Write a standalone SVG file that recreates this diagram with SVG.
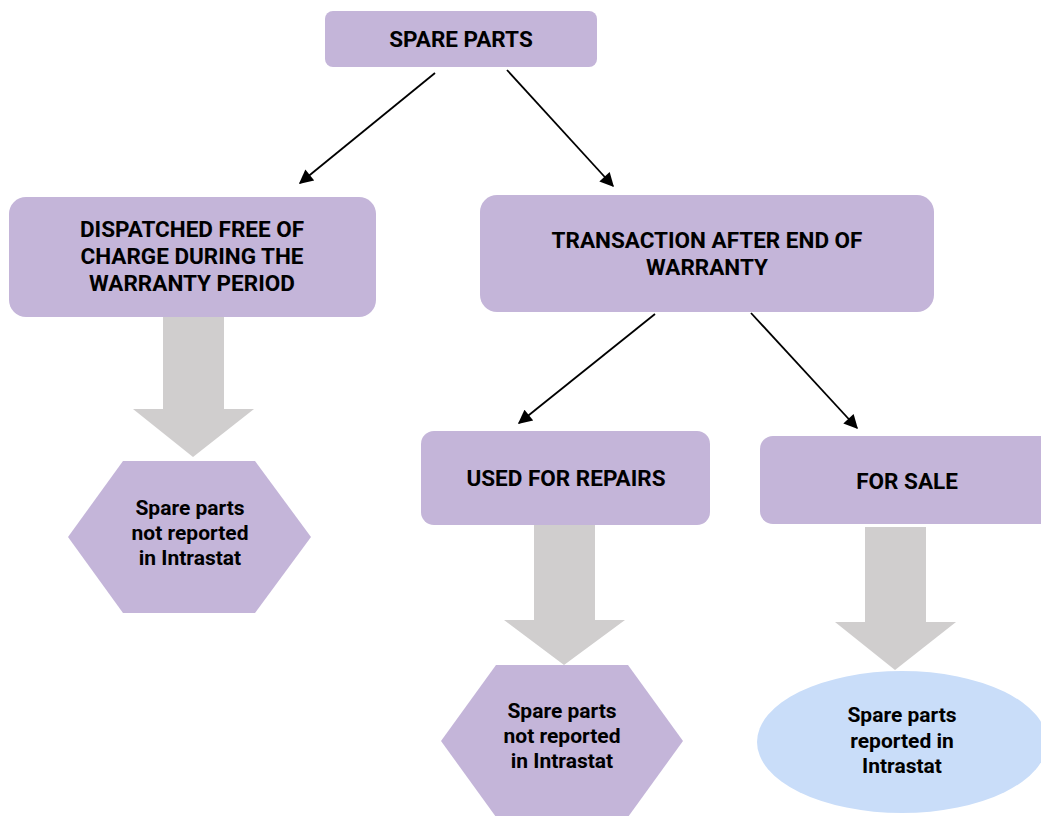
<svg xmlns="http://www.w3.org/2000/svg" width="1041" height="816" viewBox="0 0 1041 816">
<defs>
<style>
.box{fill:#c4b5d9;}
.grey{fill:#d0cece;}
.t{font-family:Roboto,"Liberation Sans",sans-serif;font-weight:bold;fill:#000;text-anchor:middle;}
.h{font-size:22.5px;}
.s{font-size:21px;}
.conn{stroke:#000;stroke-width:1.8;fill:none;marker-end:url(#ah);}
</style>
<marker id="ah" viewBox="0 0 10 10" refX="9" refY="5" markerWidth="17" markerHeight="14" markerUnits="userSpaceOnUse" orient="auto">
<path d="M0,0 L10,5 L0,10 z" fill="#000"/>
</marker>
</defs>
<rect width="1041" height="816" fill="#fff"/>
<g id="connectors">
<line class="conn" x1="435" y1="73" x2="300" y2="183"/>
<line class="conn" x1="507" y1="70" x2="613" y2="186"/>
<line class="conn" x1="655" y1="314" x2="519" y2="423"/>
<line class="conn" x1="751" y1="313" x2="857" y2="428"/>
<polygon class="grey" points="163,314 224,314 224,409 254,409 193,457 133,409 163,409"/>
<polygon class="grey" points="534,525 595,525 595,620 625,620 564,665 504,620 534,620"/>
<polygon class="grey" points="865,527 926,527 926,622 956,622 895,670 835,622 865,622"/>
</g>
<g id="spare-parts">
<rect class="box" x="325" y="11" width="272" height="56" rx="8"/>
<text class="t h" x="461" y="47">SPARE PARTS</text>
</g>
<g id="dispatched">
<rect class="box" x="9" y="197" width="367" height="120" rx="17"/>
<text class="t h" x="192" y="237">DISPATCHED FREE OF</text>
<text class="t h" x="192" y="264">CHARGE DURING THE</text>
<text class="t h" x="192" y="291">WARRANTY PERIOD</text>
</g>
<g id="transaction">
<rect class="box" x="480" y="195" width="454" height="117" rx="17"/>
<text class="t h" x="707" y="248">TRANSACTION AFTER END OF</text>
<text class="t h" x="707" y="275">WARRANTY</text>
</g>
<g id="repairs">
<rect class="box" x="421" y="431" width="289" height="94" rx="13"/>
<text class="t h" x="566" y="486">USED FOR REPAIRS</text>
</g>
<g id="sale">
<rect class="box" x="760" y="436" width="300" height="88" rx="13"/>
<text class="t h" x="907" y="489">FOR SALE</text>
</g>
<g id="not-reported-1">
<polygon class="box" points="68,537 123,461 255,461 311,537 255,613 123,613"/>
<text class="t s" x="190" y="515">Spare parts</text>
<text class="t s" x="190" y="540">not reported</text>
<text class="t s" x="190" y="565">in Intrastat</text>
</g>
<g id="not-reported-2">
<polygon class="box" points="441,741 496,665 628,665 683,741 628,817 496,817"/>
<text class="t s" x="562" y="718">Spare parts</text>
<text class="t s" x="562" y="743">not reported</text>
<text class="t s" x="562" y="768">in Intrastat</text>
</g>
<g id="reported">
<ellipse cx="902" cy="742" rx="145" ry="71" fill="#c9ddf9"/>
<text class="t s" x="902" y="722">Spare parts</text>
<text class="t s" x="902" y="748">reported in</text>
<text class="t s" x="902" y="773">Intrastat</text>
</g>
</svg>
